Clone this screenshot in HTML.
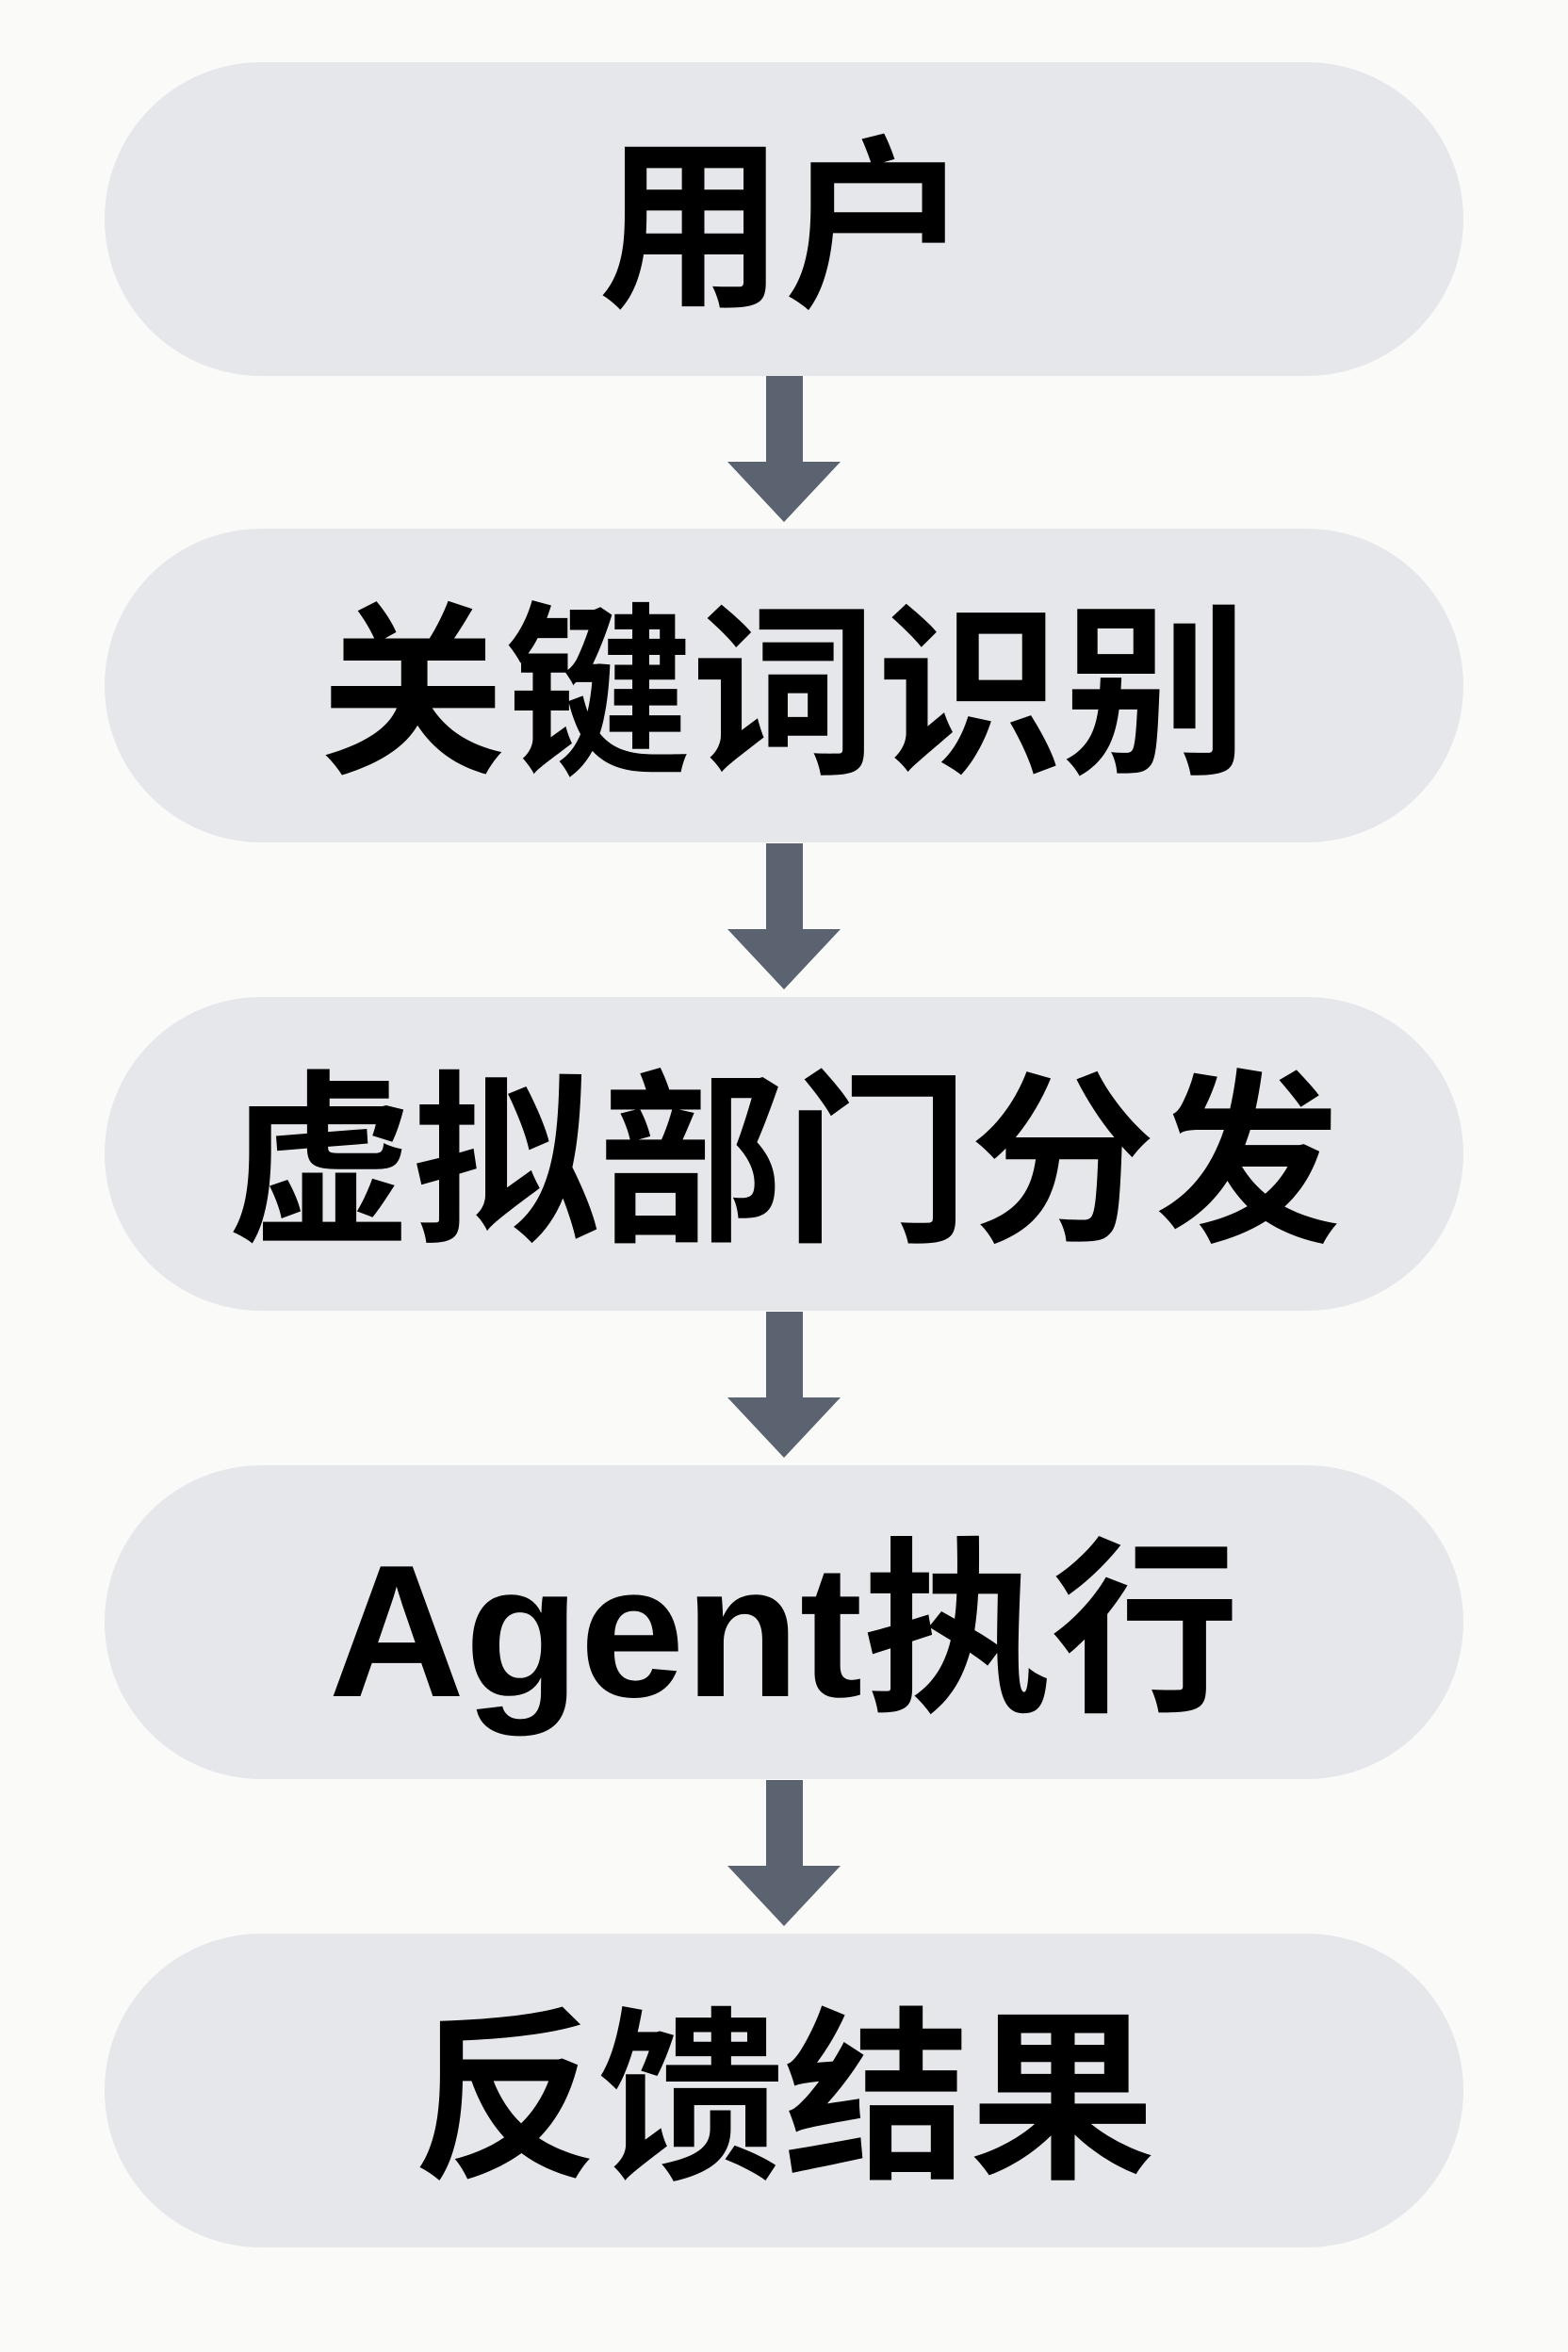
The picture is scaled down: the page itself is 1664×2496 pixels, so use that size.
<!DOCTYPE html>
<html><head><meta charset="utf-8"><style>
html,body{margin:0;padding:0;}
body{width:1664px;height:2496px;background:#fafaf9;position:relative;overflow:hidden;font-family:"Liberation Sans","Noto Sans CJK SC",sans-serif;}
.p{position:absolute;left:111px;width:1442px;height:333px;border-radius:167px;background:#e5e7eb;display:flex;align-items:center;justify-content:center;font-weight:bold;font-size:197px;color:#000;line-height:1;box-sizing:border-box;padding-top:20px;}
.a{font-size:200px;}
svg{position:absolute;left:0;top:0;}
</style></head><body>
<div class="p" style="top:66px">用户</div>
<div class="p" style="top:561px">关键词识别</div>
<div class="p" style="top:1058px">虚拟部门分发</div>
<div class="p a" style="top:1555px">Agent执行</div>
<div class="p" style="top:2052px">反馈结果</div>
<svg width="1664" height="2496">
<g fill="#5b6270">
<path d="M813 399H852V490H892L832 554L772 490H813Z"/>
<path d="M813 895H852V986H892L832 1050L772 986H813Z"/>
<path d="M813 1392H852V1483H892L832 1547L772 1483H813Z"/>
<path d="M813 1889H852V1980H892L832 2044L772 1980H813Z"/>
</g>
</svg>
</body></html>
